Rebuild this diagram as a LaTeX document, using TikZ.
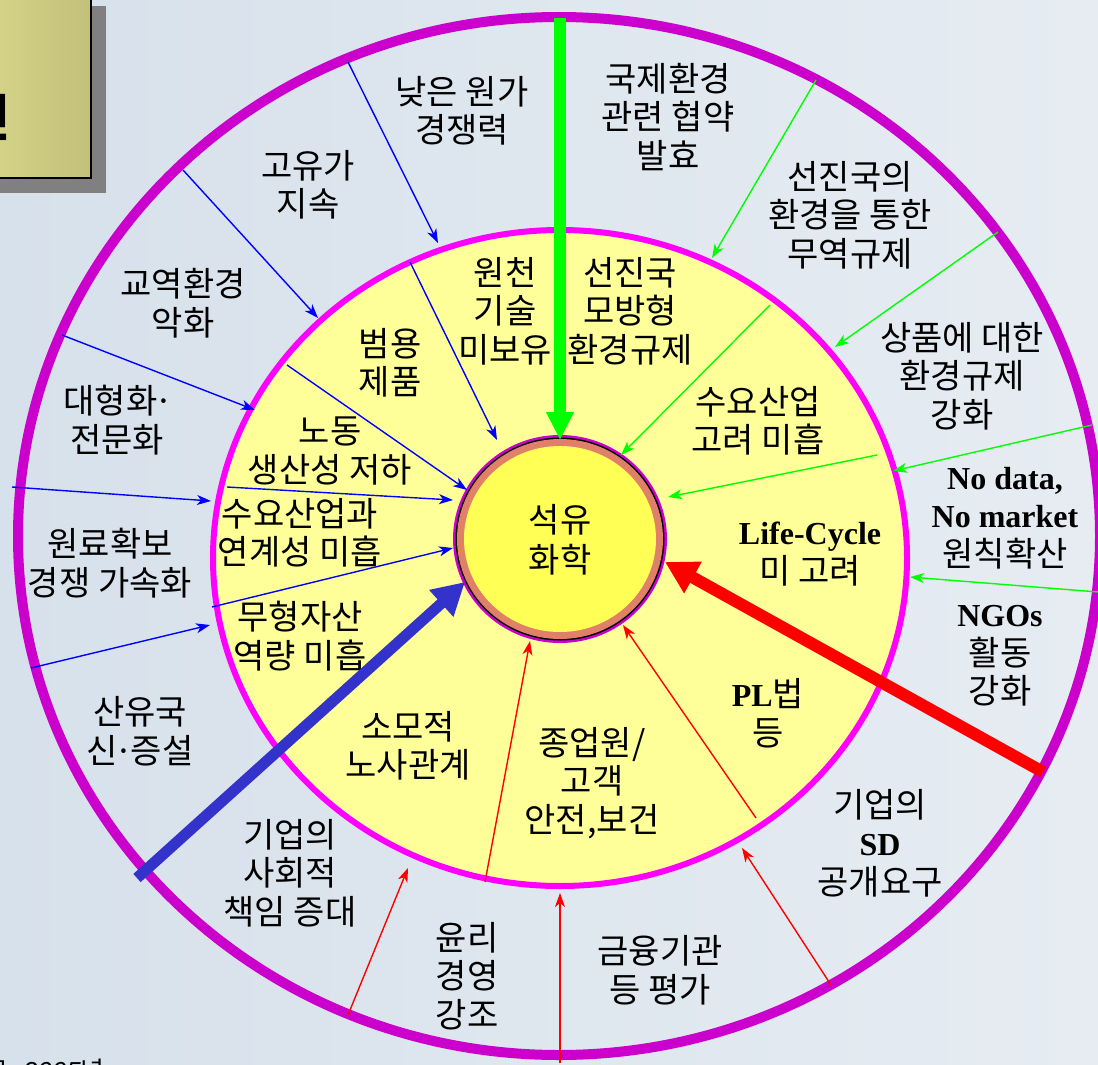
\documentclass[tikz,border=0pt]{standalone}
\usepackage{fontspec}
\setmainfont{Liberation Serif}
\newfontfamily\kr{Noto Sans CJK KR}
\newfontfamily\lsans{Liberation Sans}
\usetikzlibrary{arrows.meta}
\definecolor{bgL}{HTML}{D7E1EB}
\definecolor{bgR}{HTML}{E6ECF2}
\definecolor{ringO}{HTML}{CC00CC}
\definecolor{ringI}{HTML}{FF00FF}
\definecolor{inY}{HTML}{FFFF99}
\definecolor{coreY}{HTML}{FFFF55}
\definecolor{coral}{HTML}{E08068}
\definecolor{khakiL}{HTML}{D6D488}
\definecolor{khakiR}{HTML}{C2C07A}
\definecolor{thickblue}{HTML}{3333CC}
\newcommand\EngB[1]{{\rmfamily\bfseries\fontsize{32}{38.5}\selectfont #1}}
\newcommand\mdot{\kern-3pt·\kern-3pt}
\begin{document}
\begin{tikzpicture}[x=1pt,y=-1pt,
  lbl/.style={align=center, inner sep=0pt, font=\kr\fontsize{34}{38.5}\selectfont},
  thinarrow/.style={line width=1.4pt, -{Stealth[length=14pt,width=10pt,inset=4pt]}},
  blueA/.style={thinarrow, draw=blue},
  greenA/.style={thinarrow, draw=green},
  redA/.style={thinarrow, draw=red},
  thickA/.style={line width=12pt, -{Triangle[length=32pt,width=34pt]}}
]
\useasboundingbox (0,0) rectangle (1098,1065);
\shade[left color=bgL, right color=bgR] (0,0) rectangle (1098,1065);

% title box (cut off)
\fill[gray] (-10,6) rectangle (106,193);
\draw[line width=2pt, left color=khakiL, right color=khakiR] (-10,-10) rectangle (91,178);
\node[anchor=base east, inner sep=0pt, font=\kr\bfseries\fontsize{50}{50}\selectfont] (ttl) at (10.5,136) {인};

% rings
\draw[ringO, line width=10pt] (559,536) ellipse [x radius=541pt, y radius=519pt];
\draw[ringI, line width=6pt, fill=inY] (560,558) ellipse [x radius=347pt, y radius=328pt];

% center
\fill[ringO] (560,539) ellipse [x radius=107pt, y radius=104pt];
\fill[black] (560,539) ellipse [x radius=104.5pt, y radius=101.5pt];
\fill[coral] (560,539) ellipse [x radius=103pt, y radius=100pt];
\fill[coreY] (560,539) ellipse [x radius=96pt, y radius=93pt];
\node[lbl, font=\kr\fontsize{34}{40}\selectfont] (core) at (560,540) {석유\\화학};

% outer labels
\node[lbl] (tG) at (117,420) {대형화\mdot\\전문화};
\node[lbl] (tA) at (462,111) {낮은 원가\\경쟁력};
\node[lbl] (tB) at (668,117) {국제환경\\관련 협약\\발효};
\node[lbl] (tC) at (308,185) {고유가\\지속};
\node[lbl] (tD) at (850,215) {선진국의\\환경을 통한\\무역규제};
\node[lbl] (tE) at (183,303) {교역환경\\악화};
\node[lbl] (tF) at (962,376) {상품에 대한\\환경규제\\강화};
\node[lbl] (tH) at (1005,518) {\EngB{No data,}\\\EngB{No market}\\원칙확산};
\node[lbl] (tI) at (110,563) {원료확보\\경쟁 가속화};
\node[lbl] (tJ) at (1000,656) {\EngB{NGOs}\\활동\\강화};
\node[lbl] (tK) at (140,731) {산유국\\신\mdot 증설};
\node[lbl] (tL) at (880,843) {기업의\\\EngB{SD}\\공개요구};
\node[lbl] (tM) at (290,873) {기업의\\사회적\\책임 증대};
\node[lbl] (tN) at (467,976) {윤리\\경영\\강조};
\node[lbl] (tO) at (660,970) {금융기관\\등 평가};

% inner labels
\node[lbl] (tP) at (505,311) {원천\\기술\\미보유};
\node[lbl] (tQ) at (630,311) {선진국\\모방형\\환경규제};
\node[lbl] (tR) at (390,363) {범용\\제품};
\node[lbl] (tS) at (758,421) {수요산업\\고려 미흡};
\node[lbl] (tT) at (330,451) {노동\\생산성 저하};
\node[lbl] (tU) at (810,554) {\EngB{Life-Cycle}\\미 고려};
\node[lbl] (tV) at (300,533) {수요산업과\\연계성 미흡};
\node[lbl] (tW) at (300,636) {무형자산\\역량 미흡};
\node[lbl] (tX) at (768,713) {\EngB{PL}법\\등};
\node[lbl] (tY) at (408,746) {소모적\\노사관계};
\node[lbl] (tZ) at (592,783) {종업원/\\고객\\안전,보건};

% source (cut off)
\node[anchor=north west, inner sep=0pt, font=\kr\fontsize{26}{30}\selectfont] (src) at (-40,1059) {자료: {\lsans\itshape 2005}년};

% endpoints
\coordinate (b1s) at (348,62);  \coordinate (b1e) at (438,243);
\coordinate (b2s) at (410,262); \coordinate (b2e) at (497,440);
\coordinate (b3s) at (183,170); \coordinate (b3e) at (318,318);
\coordinate (b4s) at (287,365); \coordinate (b4e) at (467,490);
\coordinate (b5s) at (62,335);  \coordinate (b5e) at (255,410);
\coordinate (b6s) at (12,487);  \coordinate (b6e) at (211,501);
\coordinate (b7s) at (227,487); \coordinate (b7e) at (453,500);
\coordinate (b8s) at (212,607); \coordinate (b8e) at (453,548);
\coordinate (b9s) at (31,668);  \coordinate (b9e) at (210,625);
\coordinate (g1s) at (816,80);  \coordinate (g1e) at (712,258);
\coordinate (g2s) at (770,305); \coordinate (g2e) at (621,455);
\coordinate (g3s) at (998,232); \coordinate (g3e) at (835,347);
\coordinate (g4s) at (877,455); \coordinate (g4e) at (668,497);
\coordinate (g5s) at (1092,425); \coordinate (g5e) at (893,471);
\coordinate (g6s) at (1098,592); \coordinate (g6e) at (910,577);
\coordinate (r1s) at (348,1015); \coordinate (r1e) at (408,868);
\coordinate (r2s) at (485,882); \coordinate (r2e) at (530,641);
\coordinate (r3s) at (560,1063); \coordinate (r3e) at (560,893);
\coordinate (r4s) at (756,818); \coordinate (r4e) at (623,625);
\coordinate (r5s) at (831,985); \coordinate (r5e) at (742,848);
\coordinate (Gs) at (560,18);   \coordinate (Ge) at (560,440);
\coordinate (Bs) at (137,878);  \coordinate (Be) at (465,582);
\coordinate (Rs) at (1043,772); \coordinate (Re) at (665,562);

\foreach \a in {b1,b2,b3,b4,b5,b6,b7,b8,b9} \draw[blueA] (\a s) -- (\a e);
\foreach \a in {g1,g2,g3,g4,g5,g6} \draw[greenA] (\a s) -- (\a e);
\foreach \a in {r1,r2,r3,r4,r5} \draw[redA] (\a s) -- (\a e);

\draw[draw=green, fill=green, line width=12pt, -{Triangle[length=28pt,width=26pt]}] (Gs) -- (Ge);
\draw[thickA, draw=thickblue, fill=thickblue, line width=11pt] (Bs) -- (Be);
\draw[thickA, draw=red, fill=red] (Rs) -- (Re);
\end{tikzpicture}
\end{document}
